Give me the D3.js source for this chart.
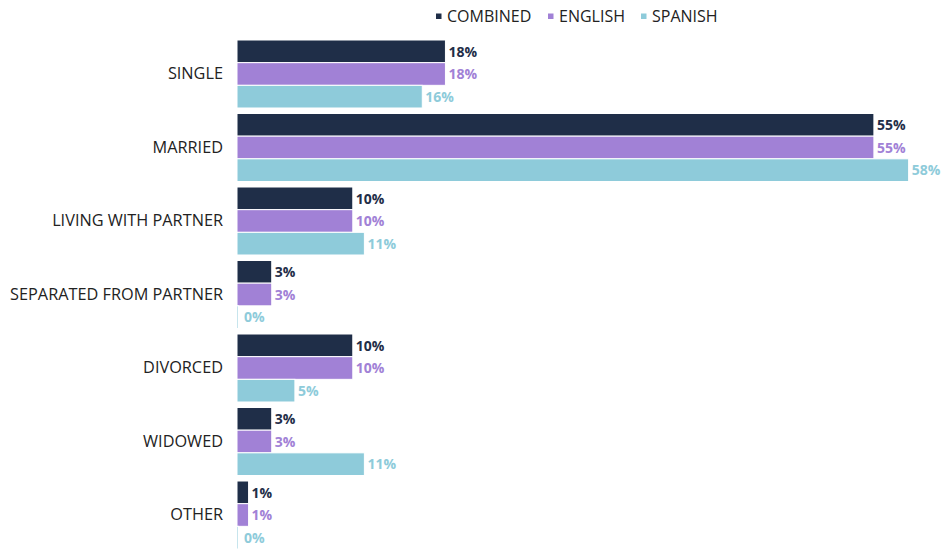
<!DOCTYPE html>
<html><head><meta charset="utf-8">
<script src="https://cdn.jsdelivr.net/npm/d3@7"></script>
<style>body{margin:0;background:#fff}svg{display:block}</style>
</head><body><svg id="c" width="941" height="552"></svg>
<script>
const categories = ["SINGLE","MARRIED","LIVING WITH PARTNER","SEPARATED FROM PARTNER","DIVORCED","WIDOWED","OTHER"];
const seriesNames = ["COMBINED","ENGLISH","SPANISH"];
const combined = [18,55,10,3,10,3,1];
const english  = [18,55,10,3,10,3,1];
const spanish  = [16,58,11,0,5,11,0];
const colors = ["#1F2E48","#A181D6","#8ECBDA"];

const values = [combined, english, spanish];
const svg = d3.select("#c");
const font = "'Open Sans', sans-serif";

const x = d3.scaleLinear().domain([0,60]).range([237, 237+60*11.58]);
const y0 = d3.scaleBand().domain(categories).range([40,549]).paddingInner(0.075).paddingOuter(0);
const y1 = d3.scaleBand().domain(seriesNames).range([0,y0.bandwidth()]).padding(0);

const g = svg.append("g");
categories.forEach((cat,i)=>{
  const gg = g.append("g").attr("transform",`translate(0,${y0(cat)})`);
  seriesNames.forEach((s,j)=>{
    const v = values[j][i];
    gg.append("rect").attr("x",x(0)).attr("y",y1(s)).attr("width",Math.max(x(v)-x(0),1.5)).attr("height",y1.bandwidth())
      .attr("fill",colors[j]).attr("stroke","#fff").attr("stroke-width",1);
    gg.append("text").attr("x",x(v)+ (v===0?7:3)).attr("y",y1(s)+y1.bandwidth()/2).attr("dy","0.38em")
      .attr("font-family",font).attr("font-weight","bold").attr("font-size",14).attr("fill",colors[j]).text(v+"%");
  });
});

// category axis
const yAxis = d3.axisLeft(y0).tickSize(0).tickPadding(0);
const ax = svg.append("g").attr("transform","translate(223,0)").call(yAxis);
ax.select(".domain").remove();
ax.selectAll("text").attr("font-family",font).attr("font-size",16.3).attr("fill","#222");

// legend
const legX = [437,549,642];
seriesNames.forEach((s,j)=>{
  const lg = svg.append("g").attr("transform",`translate(${legX[j]},16)`);
  lg.append("rect").attr("x",-1).attr("y",-2.5).attr("width",5.5).attr("height",5.5).attr("fill",colors[j]);
  lg.append("text").attr("x",10).attr("y",0).attr("dy","0.35em").attr("font-family",font).attr("font-size",16).attr("fill","#222").text(s);
});
</script></body></html>
